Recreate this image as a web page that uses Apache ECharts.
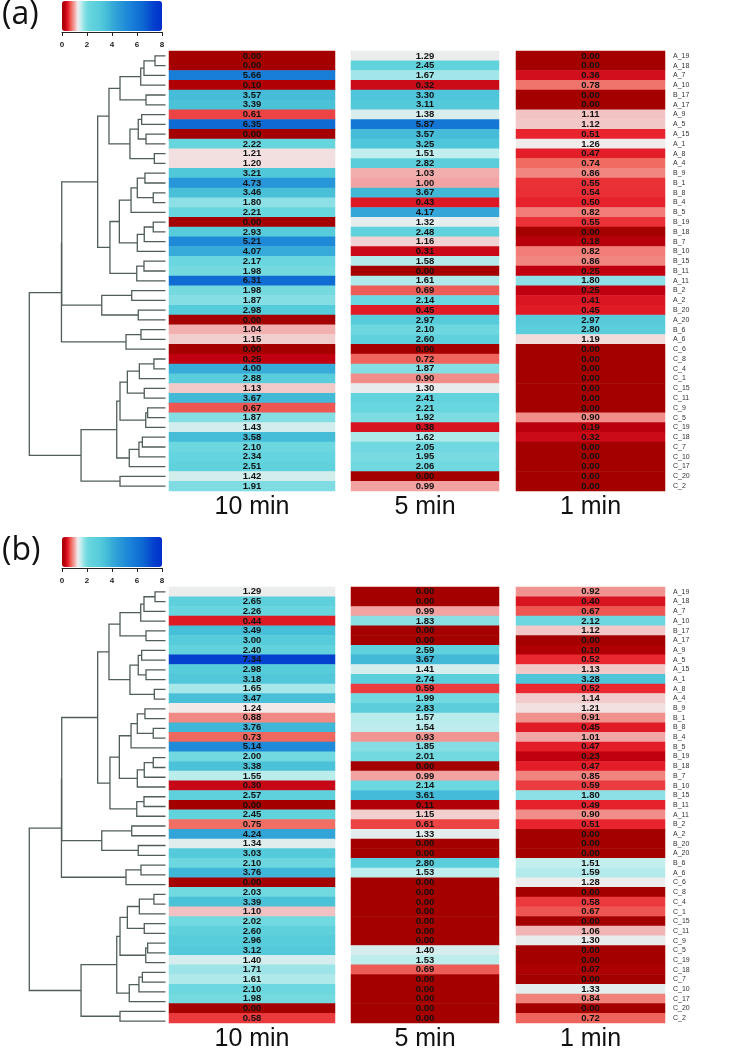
<!DOCTYPE html>
<html>
<head>
<meta charset="utf-8">
<script src="https://cdn.jsdelivr.net/npm/echarts@6/dist/echarts.min.js"></script>
<style>
  html, body { margin: 0; padding: 0; background: #fff; }
  #chart { width: 750px; height: 1052px; }
</style>
</head>
<body>
<div id="chart"></div>
<script>
// rows, top to bottom (same order in both panels)
var rowLabels = ['A_19','A_18','A_7','A_10','B_17','A_17','A_9','A_5','A_15','A_1',
  'A_8','A_4','B_9','B_1','B_8','B_4','B_5','B_19','B_18','B_7',
  'B_10','B_15','B_11','A_11','B_2','A_2','B_20','A_20','B_6','A_6',
  'C_6','C_8','C_4','C_1','C_15','C_11','C_9','C_5','C_19','C_18',
  'C_7','C_10','C_17','C_20','C_2'];
var colNames = ['10 min', '5 min', '1 min'];

// panel (a)
var a10 = [0.00,0.00,5.66,0.10,3.57,3.39,0.61,6.35,0.00,2.22, 1.21,1.20,3.21,4.73,3.46,1.80,2.21,0.00,2.93,5.21,
  4.07,2.17,1.98,6.31,1.98,1.87,2.98,0.00,1.04,1.15, 0.00,0.25,4.00,2.88,1.13,3.67,0.67,1.87,1.43,3.58,
  2.10,2.34,2.51,1.42,1.91];
var a5 = [1.29,2.45,1.67,0.32,3.30,3.11,1.38,5.87,3.57,3.25, 1.51,2.82,1.03,1.00,3.67,0.43,4.17,1.32,2.48,1.16,
  0.31,1.58,0.00,1.61,0.69,2.14,0.45,2.97,2.10,2.60, 0.00,0.72,1.87,0.90,1.30,2.41,2.21,1.92,0.38,1.62,
  2.05,1.95,2.06,0.00,0.99];
var a1 = [0.00,0.00,0.36,0.78,0.00,0.00,1.11,1.12,0.51,1.26, 0.47,0.74,0.86,0.55,0.54,0.50,0.82,0.55,0.00,0.18,
  0.82,0.86,0.25,1.80,0.25,0.41,0.45,2.97,2.80,1.19, 0.00,0.00,0.00,0.00,0.00,0.00,0.00,0.90,0.19,0.32,
  0.00,0.00,0.00,0.00,0.00];
// panel (b)
var b10 = [1.29,2.65,2.26,0.44,3.49,3.00,2.40,7.34,2.98,3.18, 1.65,3.47,1.24,0.88,3.76,0.73,5.14,2.00,3.38,1.55,
  0.30,2.57,0.00,2.45,0.75,4.24,1.34,3.03,2.10,3.76, 0.00,2.03,3.39,1.10,2.02,2.60,2.96,3.12,1.40,1.71,
  1.61,2.10,1.98,0.00,0.58];
var b5 = [0.00,0.00,0.99,1.83,0.00,0.00,2.59,3.67,1.41,2.74, 0.59,1.99,2.83,1.57,1.54,0.93,1.85,2.01,0.00,0.99,
  2.14,3.61,0.11,1.15,0.61,1.33,0.00,0.00,2.80,1.53, 0.00,0.00,0.00,0.00,0.00,0.00,0.00,1.40,1.53,0.69,
  0.00,0.00,0.00,0.00,0.00];
var b1 = [0.92,0.40,0.67,2.12,1.12,0.00,0.10,0.52,1.13,3.28, 0.52,1.14,1.21,0.91,0.45,1.01,0.47,0.23,0.47,0.85,
  0.59,1.80,0.49,0.90,0.51,0.00,0.00,0.00,1.51,1.59, 1.28,0.00,0.58,0.67,0.00,1.06,1.30,0.00,0.00,0.07,
  0.00,1.33,0.84,0.00,0.72];

// dendrogram: [height, left, right], leaves = row index
var tree = [10.0,
  [7.64,
    [7.62,
      [4.98,
        [4.15,
          [3.34, [1.82, [1.58, [0.77, 0, 1], 2], 3], [1.43, 4, 5]],
          [2.61, [2.00, [1.75, 6, 7], [1.43, 8, 9]], [0.82, 10, 11]]],
        [4.08,
          [3.39, [2.53, [2.07, [1.51, 12, 13], [0.90, 14, 15]], 16], [2.07, [1.56, [0.90, 17, 18], 19], 20]],
          [2.11, [1.58, 21, 22], 23]]],
      [4.68, [2.48, 24, 25], [2.00, 26, 27]]],
    [2.90, [1.80, 28, 29], 30]],
  [6.20,
    [3.58,
      [3.34, [2.80, [1.92, [0.85, 31, 32], 33], [1.56, 34, 35]], [1.45, [1.31, 36, 37], 38]],
      [2.66, [1.95, [1.70, 39, 40], 41], 42]],
    [3.34, 43, 44]]];

var scaleTicks = [0, 2, 4, 6, 8];
var scaleColors = ['#a50000','#c00010','#e8222c','#f06e64','#f2a4a4','#f2ecec','#c4eeee','#94e2e6','#72d9e0',
  '#66d5de','#60d2dd','#5ccfdc','#56cbda','#50c6da','#48bfd8','#40b6d8','#38acd8','#32a4d8','#2c9cd8',
  '#2896d8','#228ed8','#1e88d8','#1a82d8','#167ad6','#1274d4','#106ed2','#0e66d2','#0a5cd2','#0850d0',
  '#0644d0','#043ccc','#0236cc','#0030c8'];

var segs = [];
function walk(n) {
  if (typeof n === 'number') return { y: n, h: 0 };
  var L = walk(n[1]), R = walk(n[2]);
  segs.push({ coords: [[L.h, L.y], [n[0], L.y], [n[0], R.y], [R.h, R.y]] });
  return { y: (L.y + R.y) / 2, h: n[0] };
}
walk(tree);

var chart = echarts.init(document.getElementById('chart'));

var panels = [{ top: 51, h: 440, cols: [a10, a5, a1] }, { top: 587, h: 439, cols: [b10, b5, b1] }];
var colPos = [[169, 166], [351, 148], [516, 149]];

var grid = [], xAxis = [], yAxis = [], series = [];
panels.forEach(function (p, pi) {
  p.cols.forEach(function (vals, ci) {
    var gi = grid.length;
    grid.push({ left: colPos[ci][0], width: colPos[ci][1], top: p.top, height: p.h });
    xAxis.push({ type: 'category', gridIndex: gi, data: [colNames[ci]],
      axisLine: { show: false }, axisTick: { show: false },
      axisLabel: { fontSize: 25, color: '#111', margin: 4, fontFamily: 'Liberation Sans' } });
    yAxis.push({ type: 'category', gridIndex: gi, data: rowLabels, inverse: true, show: ci === 2,
      position: 'right', axisLine: { show: false }, axisTick: { show: false },
      axisLabel: { fontSize: 7, color: '#333', margin: 8, fontFamily: 'Liberation Sans' } });
    series.push({ type: 'heatmap', xAxisIndex: gi, yAxisIndex: gi,
      data: vals.map(function (v, i) { return [0, i, v]; }),
      label: { show: true, fontSize: 9.5, fontWeight: 'bold', color: '#111', fontFamily: 'Liberation Sans',
        formatter: function (d) { return d.value[2].toFixed(2); } },
      emphasis: { disabled: true } });
  });
});
panels.forEach(function (p) {
  var gi = grid.length;
  grid.push({ left: 29.3, width: 136.2, top: p.top, height: p.h });
  xAxis.push({ type: 'value', gridIndex: gi, min: 0, max: 10, inverse: true, show: false });
  yAxis.push({ type: 'value', gridIndex: gi, min: -0.5, max: 44.5, inverse: true, show: false });
  series.push({ type: 'lines', coordinateSystem: 'cartesian2d', xAxisIndex: gi, yAxisIndex: gi,
    polyline: true, data: segs, silent: true,
    lineStyle: { color: '#4f5d5b', width: 1.3, opacity: 1 } });
});
panels.forEach(function (p) {
  var gi = grid.length;
  grid.push({ left: 62, width: 100, top: p.top - 20, height: 1 });
  xAxis.push({ type: 'value', gridIndex: gi, min: 0, max: 8, interval: 2,
    axisLine: { show: true, lineStyle: { color: '#222', width: 1 } },
    axisTick: { show: true, length: 4, lineStyle: { color: '#222' } },
    splitLine: { show: false },
    axisLabel: { fontSize: 8, fontWeight: 'bold', color: '#222', margin: 9,
      customValues: scaleTicks } });
  yAxis.push({ type: 'value', gridIndex: gi, show: false, min: 0, max: 1 });
});

var visualMap = panels.map(function (p, pi) {
  return { type: 'continuous', min: 0, max: 8, orient: 'horizontal', left: 62, top: p.top - 50,
    itemWidth: 30, itemHeight: 100, padding: 0, text: null, calculable: false, hoverLink: false,
    seriesIndex: [pi * 3, pi * 3 + 1, pi * 3 + 2], inRange: { color: scaleColors } };
});

chart.setOption({
  backgroundColor: '#fff',
  animation: false,
  grid: grid, xAxis: xAxis, yAxis: yAxis, visualMap: visualMap, series: series,
  graphic: [
    { type: 'text', left: 2, top: -1, style: { text: '(a)', fontSize: 32, fill: '#111', fontFamily: 'Open Sans' } },
    { type: 'text', left: 2, top: 535, style: { text: '(b)', fontSize: 32, fill: '#111', fontFamily: 'Open Sans' } }
  ]
});
</script>
</body>
</html>
